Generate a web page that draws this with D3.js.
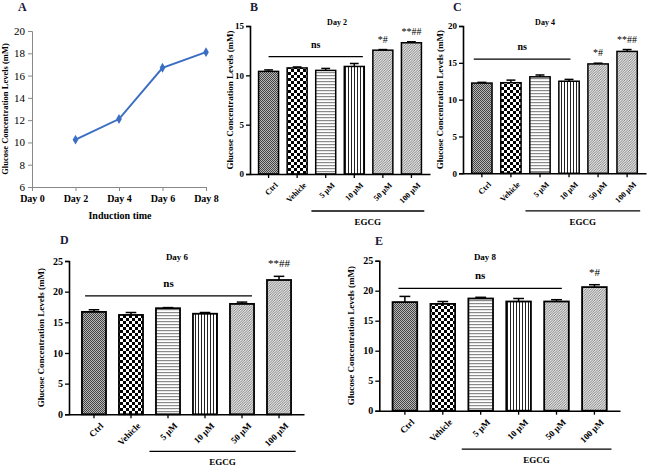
<!DOCTYPE html>
<html>
<head>
<meta charset="utf-8">
<script src="https://cdn.jsdelivr.net/npm/d3@7"></script>
<style>
  html, body { margin: 0; padding: 0; background: #fff; }
  svg { display: block; }
  text { font-family: "Liberation Serif", "Times New Roman", serif; font-weight: bold; fill: #000; }
</style>
</head>
<body>
<svg id="chart" width="650" height="467"></svg>
<script>
// ---------- DATA ----------
const days = ["Day 0", "Day 2", "Day 4", "Day 6", "Day 8"];
const lineValues = [null, 10.25, 12.1, 16.7, 18.1];
const lineTicks = [6, 8, 10, 12, 14, 16, 18, 20];

const categories = ["Ctrl", "Vehicle", "5 μM", "10 μM", "50 μM", "100 μM"];

const day2Values = [10.4, 10.75, 10.5, 10.9, 12.55, 13.3];
const day2Errors = [0.15, 0.1, 0.2, 0.3, 0.06, 0.1];
const day2Ticks = [0, 5, 10, 15];
const day2Marks = ["", "", "", "", "*#", "**##"];

const day4Values = [12.25, 12.3, 13.1, 12.5, 14.85, 16.55];
const day4Errors = [0.1, 0.35, 0.25, 0.25, 0.1, 0.25];
const day4Ticks = [0, 5, 10, 15, 20];
const day4Marks = ["", "", "", "", "*#", "**##"];

const day6Values = [16.7, 16.2, 17.3, 16.4, 18.0, 21.9];
const day6Errors = [0.35, 0.4, 0.1, 0.2, 0.3, 0.6];
const day6Ticks = [0, 5, 10, 15, 20, 25];
const day6Marks = ["", "", "", "", "", "**##"];

const day8Values = [18.1, 17.8, 18.7, 18.2, 18.2, 20.6];
const day8Errors = [0.95, 0.4, 0.2, 0.5, 0.3, 0.4];
const day8Ticks = [0, 5, 10, 15, 20, 25];
const day8Marks = ["", "", "", "", "", "*#"];

const yLabel = "Glucose Concentration Levels (mM)";

// ---------- SETUP ----------
const svg = d3.select("#chart");
const defs = svg.append("defs");

function pat(id, w, h, draw) {
  const p = defs.append("pattern").attr("id", id).attr("patternUnits", "userSpaceOnUse")
    .attr("width", w).attr("height", h);
  p.append("rect").attr("width", w).attr("height", h).attr("fill", "#fff");
  draw(p);
}
pat("p-ctrl", 2, 2, p => {
  p.append("rect").attr("width", 2).attr("height", 2).attr("fill", "#b8b8b8");
  p.append("rect").attr("x", 0).attr("y", 0).attr("width", 1).attr("height", 1).attr("fill", "#444");
  p.append("rect").attr("x", 1).attr("y", 1).attr("width", 1).attr("height", 1).attr("fill", "#444");
});
pat("p-veh", 6, 6, p => {
  p.append("rect").attr("x", 0).attr("y", 0).attr("width", 3).attr("height", 3).attr("fill", "#000");
  p.append("rect").attr("x", 3).attr("y", 3).attr("width", 3).attr("height", 3).attr("fill", "#000");
});
pat("p-h", 3, 3, p => {
  p.append("rect").attr("x", 0).attr("y", 0).attr("width", 3).attr("height", 1.2).attr("fill", "#8a8a8a");
});
pat("p-v", 3, 3, p => {
  p.append("rect").attr("x", 0).attr("y", 0).attr("width", 1).attr("height", 3).attr("fill", "#222");
});
pat("p-d", 2.5, 2.5, p => {
  p.append("rect").attr("width", 2.5).attr("height", 2.5).attr("fill", "#e2e2e2");
  p.append("path").attr("d", "M-1,1 L1,-1 M0,2.5 L2.5,0 M1.5,3.5 L3.5,1.5").attr("stroke", "#707070").attr("stroke-width", 0.8);
});
const fills = ["url(#p-ctrl)", "url(#p-veh)", "url(#p-h)", "url(#p-v)", "url(#p-d)", "url(#p-d)"];

// ---------- PANEL A (line chart) ----------
(function () {
  const x = d3.scalePoint().domain(days).range([32, 206]);
  const y = d3.scaleLinear().domain([6, 20]).range([187, 31]);
  const g = svg.append("g");

  const yAx = g.append("g").attr("transform", "translate(32,0)")
    .call(d3.axisLeft(y).tickValues(lineTicks).tickSize(4).tickPadding(3));
  yAx.selectAll("text").style("font-size", "11px").style("font-weight", "normal");
  const xAx = g.append("g").attr("transform", "translate(0,187)")
    .call(d3.axisBottom(x).tickSize(4).tickPadding(4));
  xAx.selectAll("text").style("font-size", "10px");
  [yAx, xAx].forEach(a => { a.select(".domain").attr("stroke", "#888").attr("stroke-width", 1); a.selectAll(".tick line").attr("stroke", "#888"); });

  const pts = days.map((d, i) => ({ d, v: lineValues[i] })).filter(p => p.v !== null);
  g.append("path").datum(pts)
    .attr("fill", "none").attr("stroke", "#3b6ec2").attr("stroke-width", 2)
    .attr("d", d3.line().x(p => x(p.d)).y(p => y(p.v)));
  g.selectAll(".mk").data(pts).join("path")
    .attr("transform", p => `translate(${x(p.d)},${y(p.v)})`)
    .attr("d", d3.symbol(d3.symbolDiamond, 28)())
    .attr("fill", "#3b6ec2");

  g.append("text").attr("x", 18).attr("y", 11).style("font-size", "12px").style("fill", "#1a1a3a").text("A");
  g.append("text").attr("transform", "translate(8,109) rotate(-90)").attr("text-anchor", "middle")
    .style("font-size", "8.5px").text(yLabel);
  g.append("text").attr("x", 120).attr("y", 219).attr("text-anchor", "middle").style("font-size", "10px").text("Induction time");
})();

// ---------- BAR PANELS ----------
function barPanel(cfg) {
  const { values, errors, ticks, marks, x0, x1, yTop, yBot, max, title, letter } = cfg;
  const g = svg.append("g");
  const x = d3.scaleBand().domain(categories).range([x0, x1]).padding(cfg.pad);
  const y = d3.scaleLinear().domain([0, max]).range([yBot, yTop]);
  const step = x.step();
  const cx = c => x(c) + x.bandwidth() / 2;
  const fs = cfg.fs;

  g.selectAll(".bar").data(categories).join("rect")
    .attr("x", c => x(c)).attr("y", (c, i) => y(values[i]))
    .attr("width", x.bandwidth()).attr("height", (c, i) => yBot - y(values[i]))
    .attr("fill", (c, i) => fills[i]).attr("stroke", "#000").attr("stroke-width", cfg.sw);

  const cap = x.bandwidth() * 0.22;
  categories.forEach((c, i) => {
    const yt = y(values[i] + errors[i]);
    g.append("line").attr("x1", cx(c)).attr("x2", cx(c)).attr("y1", y(values[i])).attr("y2", yt)
      .attr("stroke", "#000").attr("stroke-width", 1.5);
    g.append("line").attr("x1", cx(c) - cap).attr("x2", cx(c) + cap).attr("y1", yt).attr("y2", yt)
      .attr("stroke", "#000").attr("stroke-width", 1.5);
    if (marks[i]) {
      g.append("text").attr("x", cx(c)).attr("y", yt - cfg.markGap).attr("text-anchor", "middle")
        .style("font-size", cfg.mfs + "px").style("font-weight", "normal").text(marks[i]);
    }
  });

  const yAx = g.append("g").attr("transform", `translate(${x0},0)`)
    .call(d3.axisLeft(y).tickValues(ticks).tickSize(4).tickPadding(2).tickFormat(d3.format("d")));
  yAx.selectAll("text").style("font-size", (fs + 1) + "px");
  const xAx = g.append("g").attr("transform", `translate(0,${yBot})`)
    .call(d3.axisBottom(x).tickSize(4).tickSizeOuter(0).tickPadding(2));
  xAx.selectAll("text").style("font-size", fs + "px")
    .attr("text-anchor", "end").attr("dx", "0em").attr("dy", "0.6em")
    .attr("transform", "translate(2,4) rotate(-45)");
  [yAx, xAx].forEach(a => { a.select(".domain").attr("stroke-width", 1.6); a.selectAll(".tick line").attr("stroke-width", 1.3); });

  g.append("text").attr("transform", `translate(${x0 - cfg.labOff},${(yTop + yBot) / 2}) rotate(-90)`)
    .attr("text-anchor", "middle").style("font-size", "9px").text(yLabel);

  g.append("text").attr("x", cfg.titleX).attr("y", yTop - 1).attr("text-anchor", "middle").style("font-size", fs + "px").text(title);
  g.append("text").attr("x", cfg.letterX).attr("y", cfg.letterY).style("font-size", "12px").style("fill", "#1a1a3a").text(letter);

  const nsY = y(cfg.nsVal);
  const nsA = cx(categories[0]) + cfg.nsStart * step, nsB = cx(categories[cfg.nsEndIdx]) + cfg.nsEnd * step;
  g.append("line").attr("x1", nsA).attr("x2", nsB).attr("y1", nsY).attr("y2", nsY).attr("stroke", "#000").attr("stroke-width", 1.3);
  g.append("text").attr("x", (nsA + nsB) / 2).attr("y", nsY - 9).attr("text-anchor", "middle").style("font-size", cfg.mfs + "px").text("ns");

  const eY = yBot + cfg.egOff;
  const eA = cx(categories[2]) - step * 0.5, eB = cx(categories[5]) + step * 0.45;
  g.append("line").attr("x1", eA).attr("x2", eB).attr("y1", eY).attr("y2", eY).attr("stroke", "#000").attr("stroke-width", 1.3);
  g.append("text").attr("x", (eA + eB) / 2).attr("y", eY + 14).attr("text-anchor", "middle").style("font-size", "9px").text("EGCG");
}

barPanel({ values: day2Values, errors: day2Errors, ticks: day2Ticks, marks: day2Marks, title: "Day 2", letter: "B",
  x0: 250, x1: 430, yTop: 26, yBot: 174, max: 15, pad: 0.3, fs: 8, mfs: 10, sw: 1.5, labOff: 17, titleX: 337,
  letterX: 250, letterY: 11, nsVal: 11.9, nsStart: 0, nsEndIdx: 3, nsEnd: 0.3, egOff: 37, markGap: 7 });

barPanel({ values: day4Values, errors: day4Errors, ticks: day4Ticks, marks: day4Marks, title: "Day 4", letter: "C",
  x0: 463, x1: 646, yTop: 26, yBot: 173.3, max: 20, pad: 0.3, fs: 8, mfs: 10, sw: 1.5, labOff: 20, titleX: 545,
  letterX: 453, letterY: 11, nsVal: 15.5, nsStart: -0.28, nsEndIdx: 3, nsEnd: 0.05, egOff: 37.5, markGap: 7 });

barPanel({ values: day6Values, errors: day6Errors, ticks: day6Ticks, marks: day6Marks, title: "Day 6", letter: "D",
  x0: 69, x1: 304, yTop: 261, yBot: 414.3, max: 25, pad: 0.35, fs: 9, mfs: 11, sw: 1.8, labOff: 25, titleX: 177,
  letterX: 60, letterY: 244, nsVal: 19.3, nsStart: -0.24, nsEndIdx: 4, nsEnd: 0.27, egOff: 37, markGap: 9 });

barPanel({ values: day8Values, errors: day8Errors, ticks: day8Ticks, marks: day8Marks, title: "Day 8", letter: "E",
  x0: 379.3, x1: 620, yTop: 260.7, yBot: 410.7, max: 25, pad: 0.35, fs: 9, mfs: 11, sw: 1.8, labOff: 25, titleX: 485,
  letterX: 375, letterY: 245, nsVal: 20.4, nsStart: -0.17, nsEndIdx: 4, nsEnd: 0.14, egOff: 38.5, markGap: 9 });
</script>
</body>
</html>
